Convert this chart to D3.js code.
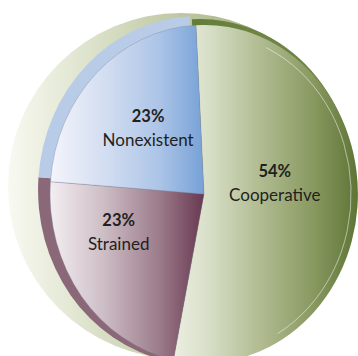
<!DOCTYPE html>
<html>
<head>
<meta charset="utf-8">
<script src="https://cdn.jsdelivr.net/npm/d3@7"></script>
<style>
  html, body { margin: 0; padding: 0; background: #ffffff; }
  svg { display: block; }
</style>
</head>
<body>
<script>
// Relationship shares, drawn clockwise from the top
const categories = ["Cooperative", "Strained", "Nonexistent"];
const shares = [54, 23, 23];
const percentLabels = ["54%", "23%", "23%"];

const W = 358, H = 356;

// Layout of the tilted disc: visible face, plus one extruded side per slice
const face = { cx: 204, cy: 194, rx: 154, ry: 169 };
const sides = [
  { cx: 200, cy: 191, rx: 156, ry: 172 },
  { cx: 198, cy: 190, rx: 160, ry: 174 },
  { cx: 198, cy: 190, rx: 160, ry: 174 }
];
const back = { cx: 181, cy: 186, r: 173 };
const startOffset = -3 * Math.PI / 180;
// small label adjustments relative to each slice centroid
const labelNudge = [[-6, -11], [-24, -7], [-2, 0]];

const svg = d3.select("body").append("svg")
  .attr("width", W).attr("height", H);
const defs = svg.append("defs");

function hGrad(id, stops) {
  const g = defs.append("linearGradient").attr("id", id)
    .attr("x1", 0).attr("y1", 0).attr("x2", 1).attr("y2", 0);
  stops.forEach(([o, c]) => g.append("stop").attr("offset", o).attr("stop-color", c));
}
hGrad("g-back", [[0, "#f8f9f1"], [0.22, "#dfe4ce"], [0.5, "#bec7a2"], [1, "#8a9963"]]);
hGrad("g-coop", [[0, "#eceee2"], [0.18, "#d9e0c9"], [0.45, "#b3be94"], [0.75, "#8a9a62"], [1, "#5e7436"]]);
hGrad("g-strained", [[0, "#f3eef1"], [0.35, "#cdbdc5"], [0.7, "#9d7d8c"], [1, "#693852"]]);
hGrad("g-nonex", [[0, "#f4f4fc"], [0.35, "#d3def1"], [0.7, "#adc5e7"], [1, "#77a1d7"]]);
hGrad("g-side-coop", [[0, "#5f7a34"], [0.5, "#6f8545"], [1, "#6a7f40"]]);

const faceFill = ["url(#g-coop)", "url(#g-strained)", "url(#g-nonex)"];
const sideFill = ["url(#g-side-coop)", "#8b6878", "#b8cce8"];

const pie = d3.pie().sort(null).value(d => d)
  .startAngle(startOffset).endAngle(startOffset + 2 * Math.PI);
const arcs = pie(shares);
const arc = d3.arc().innerRadius(0).outerRadius(1);

// back disc
svg.append("circle")
  .attr("cx", back.cx).attr("cy", back.cy).attr("r", back.r)
  .attr("fill", "url(#g-back)");

// extruded sides (large slice last so its rim sits on top)
const sideOrder = [1, 2, 0];
sideOrder.forEach(i => {
  const s = sides[i];
  svg.append("path")
    .attr("transform", `translate(${s.cx},${s.cy}) scale(${s.rx},${s.ry})`)
    .attr("d", arc(arcs[i]))
    .attr("fill", sideFill[i]);
});

// faces
const faceG = svg.append("g")
  .attr("transform", `translate(${face.cx},${face.cy}) scale(${face.rx},${face.ry})`);
faceG.selectAll("path").data(arcs).join("path")
  .attr("d", arc)
  .attr("fill", (d, i) => faceFill[i])
  .attr("stroke", (d, i) => i === 0 ? "none" : "#7b7d92")
  .attr("stroke-opacity", 0.5)
  .attr("stroke-width", 0.7)
  .attr("vector-effect", "non-scaling-stroke");

// faint highlight rim on the large slice
const rim = d3.arc().innerRadius(0.955).outerRadius(0.955)
  .startAngle(25 * Math.PI / 180).endAngle(150 * Math.PI / 180);
faceG.append("path")
  .attr("d", rim())
  .attr("fill", "none")
  .attr("stroke", "#ffffff")
  .attr("stroke-opacity", 0.35)
  .attr("stroke-width", 0.8)
  .attr("vector-effect", "non-scaling-stroke");

// labels
const labels = svg.append("g")
  .attr("font-family", "Lato, 'Open Sans', sans-serif")
  .attr("fill", "#231f20")
  .attr("text-anchor", "middle");
arcs.forEach((d, i) => {
  const [ux, uy] = arc.centroid(d);
  const x = face.cx + ux * face.rx + labelNudge[i][0];
  const y = face.cy + uy * face.ry + labelNudge[i][1];
  const g = labels.append("g").attr("transform", `translate(${x},${y})`);
  g.append("text").attr("y", -12)
    .attr("font-size", 16.5).attr("font-weight", 700)
    .text(percentLabels[i]);
  g.append("text").attr("y", 12)
    .attr("font-size", 17)
    .text(categories[i]);
});
</script>
</body>
</html>
